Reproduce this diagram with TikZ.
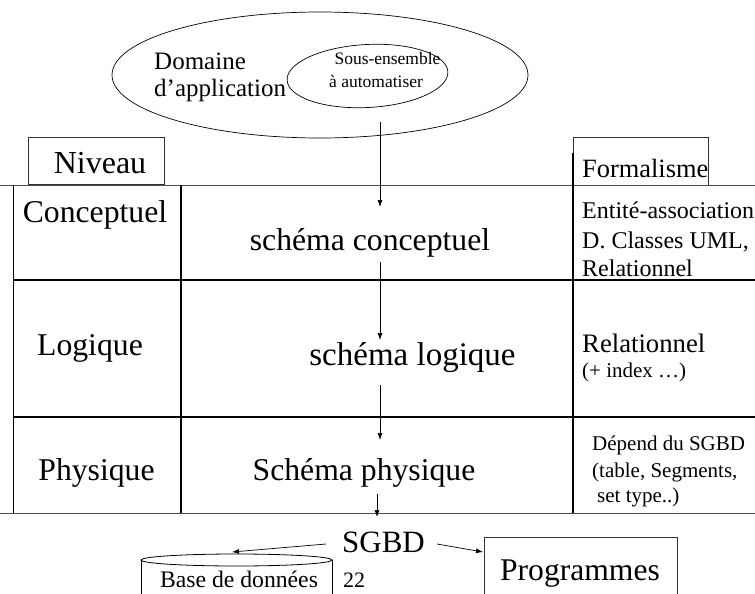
\documentclass[tikz,border=0pt]{standalone}
\usepackage{fontspec}
\setmainfont{Liberation Serif}
\usetikzlibrary{arrows.meta,shapes.geometric}
\newcommand{\fsz}[1]{\fontsize{#1}{#1}\selectfont}
\begin{document}
\begin{tikzpicture}[x=1pt,y=-1pt,
  txt/.style={inner sep=0pt, anchor=base},
  txtw/.style={inner sep=0pt, anchor=base west},
  box/.style={draw=black!80, line width=0.8pt, inner sep=0pt},
  thinline/.style={line width=0.8pt, draw=black!70},
  thickline/.style={line width=1.8pt},
  arr/.style={-{Latex[length=7pt,width=5pt]}, line width=0.7pt}]
\useasboundingbox (0,0) rectangle (755,594);
\clip (0,0) rectangle (755,594);

% ellipses
\node[ellipse, draw, line width=0.7pt, minimum width=416pt, minimum height=126pt, inner sep=0pt] (dom) at (320,75) {};
\node[ellipse, draw, line width=0.7pt, minimum width=161pt, minimum height=63pt, inner sep=0pt, rotate=3] (sous) at (367.5,76) {};
\node[txtw, font=\fsz{25}] (domt1) at (154,70) {Domaine};
\node[txtw, font=\fsz{25}] (domt2) at (154,96) {d’application};
\node[txt, font=\fsz{17.5}] (sst1) at (387.5,65) {Sous-ensemble};
\node[txt, font=\fsz{17.5}] (sst2) at (376,88) {à automatiser};

% header boxes
\node[box, minimum width=136pt, minimum height=47pt] (nivbox) at (96,160.5) {};
\node[txt, font=\fsz{32}] (niv) at (100,173) {Niveau};
\node[box, minimum width=135pt, minimum height=48pt] (forbox) at (640.5,161) {};
\node[txtw, font=\fsz{26.4}] (for) at (582,177) {Formalisme};

% table
\draw[thinline] (0,185) -- (755,185);
\draw[thinline] (0,513) -- (755,513);
\draw[line width=1pt] (13,185) -- (13,513);
\draw[thickline] (181,185) -- (181,513);
\draw[thickline] (573,153) -- (573,513);
\draw[thickline] (13,280) -- (755,280);
\draw[thickline] (13,417) -- (755,417);

% level labels
\node[txt, font=\fsz{31.7}] (conc) at (95,222) {Conceptuel};
\node[txt, font=\fsz{31.7}] (logi) at (90,355) {Logique};
\node[txt, font=\fsz{31.7}] (phys) at (96.5,480) {Physique};

% schemas
\node[txt, font=\fsz{31.7}] (sc) at (370,250) {schéma conceptuel};
\node[txt, font=\fsz{33}] (sl) at (412.5,365) {schéma logique};
\node[txt, font=\fsz{31.7}] (sp) at (364,480) {Schéma physique};

% formalisms
\node[txtw, font=\fsz{24}] (f1) at (582,218) {Entité-association,};
\node[txtw, font=\fsz{24}] (f2) at (582,248) {D. Classes UML,};
\node[txtw, font=\fsz{24}] (f3) at (582,276) {Relationnel};
\node[txtw, font=\fsz{26.7}] (f4) at (582,352) {Relationnel};
\node[txtw, font=\fsz{21}] (f5) at (582,377) {(+ index …)};
\node[txtw, font=\fsz{21}] (f6) at (592,450) {Dépend du SGBD};
\node[txtw, font=\fsz{21}] (f7) at (592,477) {(table, Segments,};
\node[txtw, font=\fsz{21}] (f8) at (597,502) {set type..)};

% bottom
\node[txt, font=\fsz{31}] (sgbd) at (383.5,552) {SGBD};
\node[box, minimum width=193pt, minimum height=80pt, anchor=north west] (prog) at (484,537) {};
\node[txt, font=\fsz{31.6}] (progt) at (580,580) {Programmes};
\draw[line width=0.8pt] (141,560) -- (141,600);
\draw[line width=0.8pt] (332,560) -- (332,600);
\node[ellipse, draw, fill=white, line width=0.8pt, minimum width=191pt, minimum height=12pt, inner sep=0pt] (db) at (236.5,560) {};
\node[txt, font=\fsz{23.7}] (dbt) at (239,587) {Base de données};
\node[txt, font=\fsz{22}] (n22) at (354,587) {22};

% arrows
\coordinate (a1s) at (380,122); \coordinate (a1e) at (380,207);
\coordinate (a2s) at (380,262); \coordinate (a2e) at (380,340);
\coordinate (a3s) at (380,385); \coordinate (a3e) at (380,440);
\coordinate (a4s) at (377,494); \coordinate (a4e) at (377,517);
\coordinate (a5s) at (326,544); \coordinate (a5e) at (232,552);
\coordinate (a6s) at (437,544); \coordinate (a6e) at (483,552);
\draw[arr] (a1s) -- (a1e);
\draw[arr] (a2s) -- (a2e);
\draw[arr] (a3s) -- (a3e);
\draw[arr] (a4s) -- (a4e);
\draw[arr] (a5s) -- (a5e);
\draw[arr] (a6s) -- (a6e);
\end{tikzpicture}
\end{document}
